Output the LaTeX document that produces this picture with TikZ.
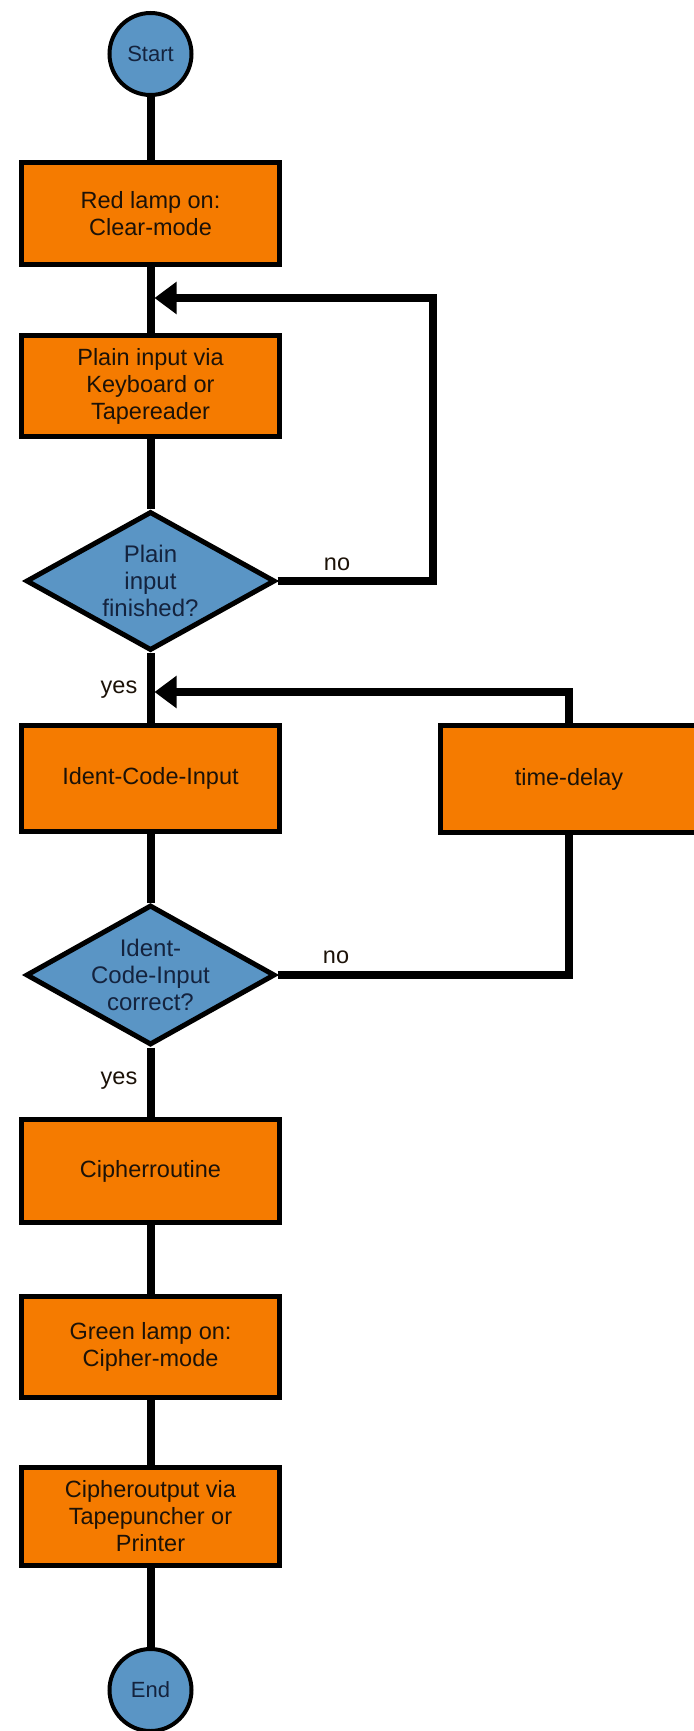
\documentclass[tikz,border=0pt]{standalone}
\usepackage{fontspec}
\setmainfont{Liberation Sans}
\usetikzlibrary{shapes.geometric,arrows.meta}
\definecolor{orng}{RGB}{245,123,0}
\definecolor{blu}{RGB}{90,149,197}
\definecolor{navy}{RGB}{20,35,62}
\definecolor{ink}{RGB}{28,18,8}
\begin{document}
\begin{tikzpicture}[x=1pt,y=-1pt,
  proc/.style={rectangle,draw=black,line width=5pt,fill=orng,minimum width=258pt,
    align=center,inner sep=0pt,text=ink,font=\fontsize{23.5}{27}\selectfont},
  dec/.style={diamond,draw=black,line width=5pt,fill=blu,inner xsep=0pt,inner ysep=-8pt,
    shape aspect=1.8,minimum width=249pt,align=center,text=navy,
    font=\fontsize{24}{27}\selectfont},
  term/.style={circle,draw=black,line width=4pt,fill=blu,minimum size=82pt,inner sep=0pt,
    text=navy,font=\fontsize{22}{26}\selectfont},
  conn/.style={line width=8pt,line join=miter},
  arr/.style={-{Triangle[length=22pt,width=31pt]}},
  lbl/.style={inner sep=0pt,text=ink,font=\fontsize{23.5}{27}\selectfont}
]
\useasboundingbox (0,0) rectangle (693,1731);
\fill[white] (0,0) rectangle (693,1731);

\coordinate (j1) at (154.5,298);
\coordinate (r1) at (433,298);
\coordinate (j2) at (154.5,692);

% nodes
\node[term] (start) at (150.5,54) {Start};
\node[proc,minimum height=102pt] (b1) at (150.5,213.5) {Red lamp on:\\Clear-mode};
\node[proc,minimum height=101pt] (b2) at (150.5,386) {Plain input via\\Keyboard or\\Tapereader};
\node[dec,minimum height=139pt] (d1) at (150.5,581) {Plain\\input\\finished?};
\node[proc,minimum height=106pt] (b3) at (150.5,778.5) {Ident-Code-Input};
\node[proc,minimum height=107pt] (td) at (569,779) {time-delay};
\node[dec,minimum height=140pt] (d2) at (150.5,975) {Ident-\\Code-Input\\correct?};
\node[proc,minimum height=103pt] (b4) at (150.5,1171) {Cipherroutine};
\node[proc,minimum height=101pt] (b5) at (150.5,1347) {Green lamp on:\\Cipher-mode};
\node[proc,minimum height=98pt] (b6) at (150.5,1516.5) {Cipheroutput via\\Tapepuncher or\\Printer};
\node[term] (end) at (150.5,1690) {End};

% main spine
\draw[conn] (start.south) -- (b1.north);
\draw[conn] (b1.south) -- (b2.north);
\draw[conn] (b2.south) -- (d1.north);
\draw[conn] (d1.south) -- (b3.north);
\draw[conn] (b3.south) -- (d2.north);
\draw[conn] (d2.south) -- (b4.north);
\draw[conn] (b4.south) -- (b5.north);
\draw[conn] (b5.south) -- (b6.north);
\draw[conn] (b6.south) -- (end.north);

% loops
\draw[conn,arr] (d1.east) -| (r1) -- (j1);
\draw[conn] (d2.east) -| (td.south);
\draw[conn,arr] (td.north) |- (j2);

% labels
\node[lbl] (no1) at (337,564) {no};
\node[lbl] (no2) at (336,957) {no};
\node[lbl] (yes1) at (119,690) {yes};
\node[lbl] (yes2) at (119,1081) {yes};
\end{tikzpicture}
\end{document}
